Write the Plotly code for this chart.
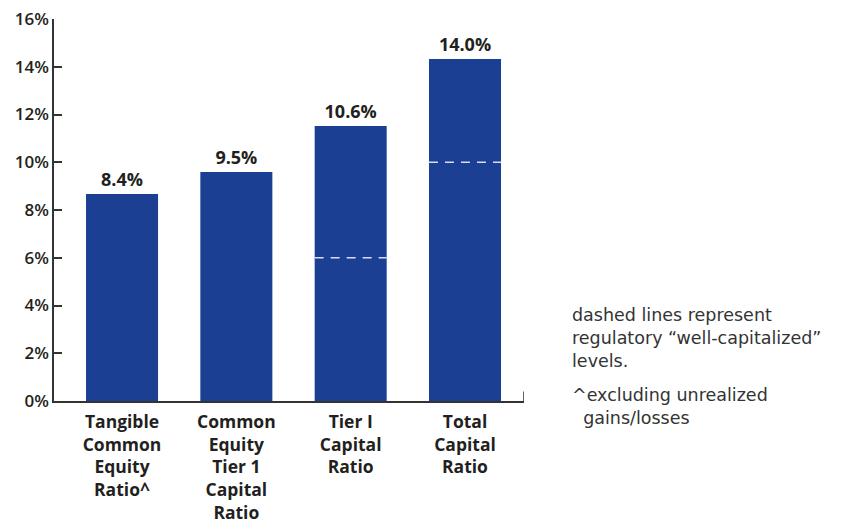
import plotly.graph_objects as go

categories = ["Tangible<br>Common<br>Equity<br>Ratio^", "Common<br>Equity<br>Tier 1<br>Capital<br>Ratio",
              "Tier I<br>Capital<br>Ratio", "Total<br>Capital<br>Ratio"]
bar_values = [8.67, 9.59, 11.52, 14.32]
bar_labels = ["8.4%", "9.5%", "10.6%", "14.0%"]
well_capitalized = [None, None, 6.0, 10.0]
y_ticks = [0, 2, 4, 6, 8, 10, 12, 14, 16]
y_ticklabels = [f"{v}%" for v in y_ticks]

BAR_COLOR = "#1B3F93"
TEXT = "#231F20"
FONT = "Open Sans"
NOTE_FONT = "DejaVu Sans"
BAR_W = 0.63
x_pos = list(range(len(categories)))

fig = go.Figure()
fig.add_trace(go.Bar(
    x=x_pos, y=bar_values, width=BAR_W, marker=dict(color=BAR_COLOR, line=dict(width=0)),
    text=bar_labels, textposition="outside", cliponaxis=False,
    textfont=dict(family=FONT, size=18, color=TEXT, weight="bold"),
    hoverinfo="skip",
))

shapes = []
for i, lvl in enumerate(well_capitalized):
    if lvl is None:
        continue
    shapes.append(dict(type="line", xref="x", yref="y", x0=i - BAR_W / 2, x1=i + BAR_W / 2,
                       y0=lvl, y1=lvl, line=dict(color="#D9DEEC", width=1.5, dash="9px,7px")))

x_range = [-0.595, 3.516]
shapes.append(dict(type="line", xref="x", yref="paper", x0=x_range[1], x1=x_range[1],
                   y0=0, y1=0.025, line=dict(color="#333333", width=1.5)))

fig.update_layout(
    width=838, height=515,
    margin=dict(l=46, r=322, t=11, b=122, autoexpand=False),
    paper_bgcolor="white", plot_bgcolor="white",
    showlegend=False,
    shapes=shapes,
    font=dict(family=FONT, color=TEXT),
    xaxis=dict(range=x_range, tickvals=x_pos, ticktext=categories, showgrid=False, zeroline=False,
               showline=True, linecolor="#333333", linewidth=1.5, ticks="", automargin=False,
               ticklabelstandoff=4,
               tickfont=dict(family=FONT, size=17.5, color=TEXT, weight="bold"), fixedrange=True),
    yaxis=dict(range=[0, 16], tickvals=y_ticks, ticktext=y_ticklabels, showgrid=False, zeroline=False,
               showline=True, linecolor="#333333", linewidth=1.5, ticks="inside", ticklen=8,
               tickcolor="#333333", tickwidth=1.5, automargin=False, ticklabeloverflow="allow",
               tickfont=dict(family=FONT, size=17, color=TEXT, weight=600), fixedrange=True),
    annotations=[
        dict(xref="paper", yref="paper", x=1.098, y=0.257, xanchor="left", yanchor="top",
             align="left", showarrow=False,
             text="dashed lines represent<br>regulatory \u201cwell-capitalized\u201d<br>levels.",
             font=dict(family=NOTE_FONT, size=17.5, color="#333333")),
        dict(xref="paper", yref="paper", x=1.098, y=0.047, xanchor="left", yanchor="top",
             align="left", showarrow=False,
             text="^excluding unrealized<br>  gains/losses",
             font=dict(family=NOTE_FONT, size=17.5, color="#333333")),
    ],
)

fig.write_html("out.html")
